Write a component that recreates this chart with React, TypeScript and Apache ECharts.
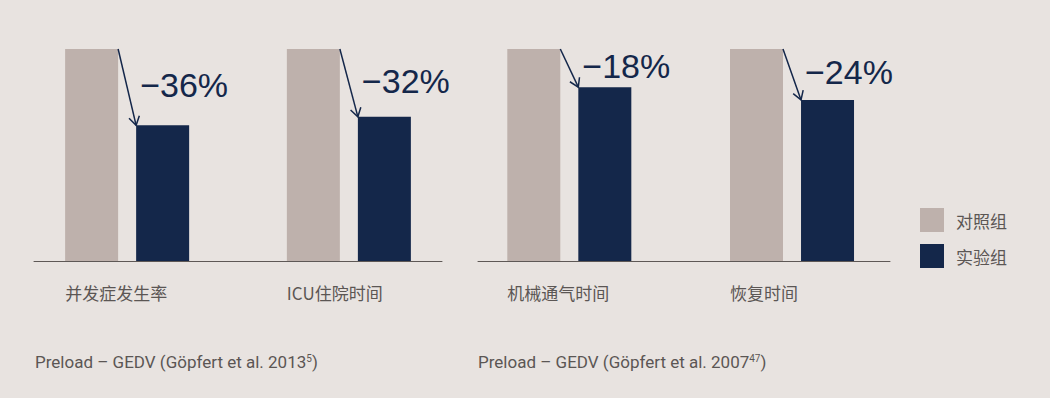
import React, { useEffect, useRef } from "react";
import * as echarts from "echarts";

const categoriesA = ["并发症发生率", "ICU住院时间"];
const categoriesB = ["机械通气时间", "恢复时间"];
const controlA = [100, 100];
const experimentA = [64, 68];
const changeA = ["−36%", "−32%"];
const controlB = [100, 100];
const experimentB = [82, 76];
const changeB = ["−18%", "−24%"];
const seriesNames = ["对照组", "实验组"];
const sourceTexts = ["Preload – GEDV (Göpfert et al. 2013", "Preload – GEDV (Göpfert et al. 2007"];
const sourceRefs = ["5", "47"];

const BG = "#E8E3E0";
const GREY = "#BEB1AC";
const NAVY = "#14274A";
const TEXT = "#5B5654";
const CJK = "'Noto Sans CJK SC', 'Noto Sans', sans-serif";

function makeRenderItem(control: number[], exp: number[], change: string[], cats: string[]) {
  return (params: any, api: any) => {
    const i = params.dataIndex;
    const top = api.coord([i, control[i]]);
    const low = api.coord([i, exp[i]]);
    const base = api.coord([i, 0]);
    const cx = top[0];
    const x1 = cx - 9, y1 = top[1];
    const x2 = cx + 9, y2 = low[1];
    const dx = x2 - x1, dy = y2 - y1;
    const len = Math.sqrt(dx * dx + dy * dy);
    const bx = -dx / len, by = -dy / len;
    const a = (32 * Math.PI) / 180;
    const L = 10;
    const rot = (ang: number) => [
      x2 + L * (bx * Math.cos(ang) - by * Math.sin(ang)),
      y2 + L * (bx * Math.sin(ang) + by * Math.cos(ang)),
    ];
    return {
      type: "group",
      children: [
        { type: "line", shape: { x1, y1, x2, y2 }, style: { stroke: NAVY, lineWidth: 1.5 } },
        { type: "polyline", shape: { points: [rot(a), [x2, y2], rot(-a)] }, style: { stroke: NAVY, lineWidth: 1.5, fill: null } },
        {
          type: "text",
          x: cx + 13,
          y: (y1 + y2) / 2 - 2,
          style: { text: change[i], fontSize: 34, fontFamily: "'Liberation Sans', Arial, sans-serif", fill: NAVY, verticalAlign: "middle", align: "left" },
        },
        {
          type: "text",
          x: cx - 62,
          y: base[1] + 31,
          style: { text: cats[i], fontSize: 17, fontFamily: CJK, fill: TEXT, verticalAlign: "middle", align: "left" },
        },
      ],
    };
  };
}

export default function App() {
  const ref = useRef<HTMLDivElement>(null);
  useEffect(() => {
    if (!ref.current) return;
    const chart = echarts.init(ref.current, null, { renderer: "svg" });
    const xAxisBase = {
      type: "value",
      axisLabel: { show: false },
      axisTick: { show: false },
      splitLine: { show: false },
      axisLine: { show: true, lineStyle: { color: "#5E5856", width: 1 } },
    };
    const yAxisBase = { type: "value", min: 0, max: 100, show: false };
    const barBase = { type: "bar", barWidth: 53, barGap: "34%" };
    const footRich = {
      n: { fontSize: 17, fontFamily: "Roboto, sans-serif", color: TEXT },
      s: { fontSize: 10, fontFamily: "Roboto, sans-serif", color: TEXT, verticalAlign: "top", lineHeight: 12 },
    };
    chart.setOption({
      animation: false,
      backgroundColor: BG,
      title: sourceTexts.map((t, i) => ({
        text: `{n|${t}}{s|${sourceRefs[i]}}{n|)}`,
        left: i === 0 ? 35 : 478,
        top: 353,
        padding: 0,
        textStyle: { rich: footRich, fontWeight: "normal" },
      })),
      legend: {
        data: seriesNames,
        orient: "vertical",
        left: 920,
        top: 208,
        padding: 0,
        itemWidth: 24,
        itemHeight: 24,
        itemGap: 12,
        icon: "rect",
        textStyle: { fontSize: 17, fontFamily: CJK, color: TEXT, padding: [0, 0, 0, 7] },
      },
      grid: [
        { left: 34, top: 49, width: 408, height: 212 },
        { left: 478, top: 49, width: 412, height: 212 },
      ],
      xAxis: [
        { ...xAxisBase, gridIndex: 0, min: -0.42, max: 1.42 },
        { ...xAxisBase, gridIndex: 1, min: -0.41, max: 1.44 },
      ],
      yAxis: [
        { ...yAxisBase, gridIndex: 0 },
        { ...yAxisBase, gridIndex: 1 },
      ],
      series: [
        { ...barBase, name: seriesNames[0], xAxisIndex: 0, yAxisIndex: 0, itemStyle: { color: GREY }, data: controlA.map((v, i) => [i, v]) },
        { ...barBase, name: seriesNames[1], xAxisIndex: 0, yAxisIndex: 0, itemStyle: { color: NAVY }, data: experimentA.map((v, i) => [i, v]) },
        { ...barBase, name: seriesNames[0], xAxisIndex: 1, yAxisIndex: 1, itemStyle: { color: GREY }, data: controlB.map((v, i) => [i, v]) },
        { ...barBase, name: seriesNames[1], xAxisIndex: 1, yAxisIndex: 1, itemStyle: { color: NAVY }, data: experimentB.map((v, i) => [i, v]) },
        {
          type: "custom",
          xAxisIndex: 0,
          yAxisIndex: 0,
          clip: false,
          silent: true,
          renderItem: makeRenderItem(controlA, experimentA, changeA, categoriesA),
          data: experimentA.map((v, i) => [i, v]),
          z: 5,
        },
        {
          type: "custom",
          xAxisIndex: 1,
          yAxisIndex: 1,
          clip: false,
          silent: true,
          renderItem: makeRenderItem(controlB, experimentB, changeB, categoriesB),
          data: experimentB.map((v, i) => [i, v]),
          z: 5,
        },
      ],
    });
    return () => chart.dispose();
  }, []);
  return (
    <div
      ref={ref}
      style={{ position: "fixed", left: 0, top: 0, width: 1050, height: 398, background: BG }}
    />
  );
}
